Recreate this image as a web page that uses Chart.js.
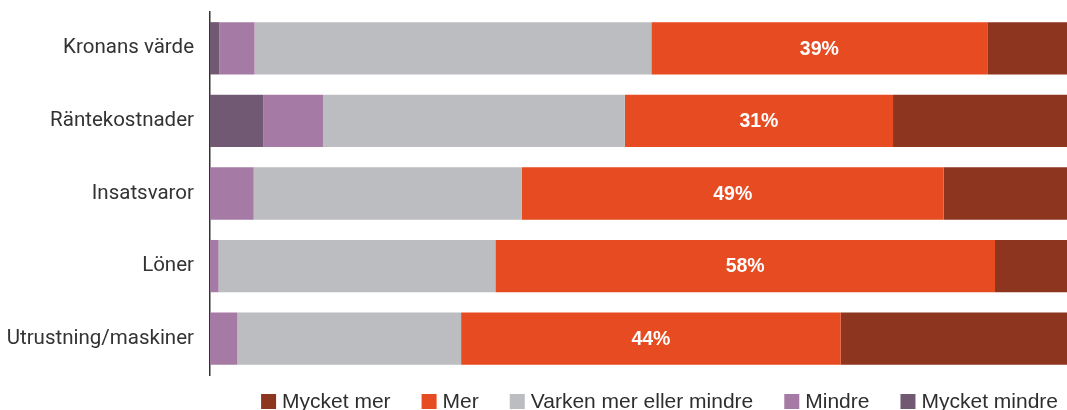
<!DOCTYPE html>
<html>
<head>
<meta charset="utf-8">
<script src="https://cdn.jsdelivr.net/npm/chart.js@4.4.0/dist/chart.umd.min.js"></script>
<style>
    html, body { margin: 0; padding: 0; background: #fff; }
    #wrap { width: 1067px; height: 410px; }
</style>
</head>
<body>
<div id="wrap"><canvas id="chart"></canvas></div>
<script>
// kategorier och andelar (%)
const categories = ['Kronans värde', 'Räntekostnader', 'Insatsvaror', 'Löner', 'Utrustning/maskiner'];
const mycketMindre = [1.1, 6.2, 0, 0, 0];
const mindre = [4.1, 7.0, 5.1, 1.0, 3.2];
const varken = [46.3, 35.2, 31.3, 32.3, 26.1];
const mer = [39.2, 31.3, 49.2, 58.3, 44.3];
const mycketMer = [9.3, 20.3, 14.4, 8.4, 26.4];

const colors = {
    mycketMindre: '#715973',
    mindre: '#a57ba5',
    varken: '#bcbdc1',
    mer: '#e64b21',
    mycketMer: '#8e3520'
};

// skriver procentsatsen i "Mer"-segmentet
const merLabels = {
    id: 'merLabels',
    afterDatasetsDraw(chart) {
        var ctx = chart.ctx;
        var meta = chart.getDatasetMeta(3);
        ctx.save();
        ctx.fillStyle = '#ffffff';
        ctx.font = 'bold 19.5px "Liberation Sans", Arial, sans-serif';
        ctx.textAlign = 'center';
        ctx.textBaseline = 'middle';
        meta.data.forEach((bar, i) => {
            var x = (bar.x + bar.base) / 2;
            ctx.fillText(Math.round(mer[i]) + '%', x, bar.y + 1);
        });
        ctx.restore();
    }
};

// egen förklaring under diagrammet, omvänd ordning, högerställd
const bottomLegend = {
    id: 'bottomLegend',
    afterDraw(chart) {
        var ctx = chart.ctx;
        var sets = chart.data.datasets.slice().reverse();
        var box = 15, gapText = 6, gapItem = 31;
        ctx.save();
        ctx.font = '21px "Liberation Sans", Arial, sans-serif';
        ctx.textBaseline = 'middle';
        var widths = sets.map(ds => box + gapText + ctx.measureText(ds.label).width);
        var total = widths.reduce((a, b) => a + b, 0) + gapItem * (sets.length - 1);
        var x = chart.chartArea.right - 9 - total;
        var top = chart.chartArea.bottom + 19;
        sets.forEach((ds, i) => {
            ctx.fillStyle = ds.backgroundColor;
            ctx.fillRect(x, top, box, box);
            ctx.fillStyle = '#2e2e2e';
            ctx.fillText(ds.label, x + box + gapText, top + box / 2 + 1);
            x += widths[i] + gapItem;
        });
        ctx.restore();
    }
};

var ctx = document.getElementById('chart').getContext('2d');
new Chart(ctx, {
    type: 'bar',
    data: {
        labels: categories,
        datasets: [
            { label: 'Mycket mindre', data: mycketMindre, backgroundColor: colors.mycketMindre },
            { label: 'Mindre', data: mindre, backgroundColor: colors.mindre },
            { label: 'Varken mer eller mindre', data: varken, backgroundColor: colors.varken },
            { label: 'Mer', data: mer, backgroundColor: colors.mer },
            { label: 'Mycket mer', data: mycketMer, backgroundColor: colors.mycketMer }
        ]
    },
    options: {
        indexAxis: 'y',
        responsive: true,
        maintainAspectRatio: false,
        animation: false,
        datasets: {
            bar: {
                categoryPercentage: 1,
                barPercentage: 0.72,
                borderWidth: 0
            }
        },
        layout: {
            padding: { top: 12, right: 0, left: 0, bottom: 35 }
        },
        scales: {
            x: {
                stacked: true,
                display: false,
                min: 0,
                max: 100
            },
            y: {
                stacked: true,
                afterFit: function(scale) {
                    scale.width = 210;
                    scale.paddingTop = 0;
                    scale.paddingBottom = 0;
                },
                grid: { display: false, drawTicks: false },
                border: { display: true, color: '#333333', width: 1.5 },
                ticks: {
                    padding: 16,
                    color: '#333333',
                    font: { family: 'Roboto, "Noto Sans", sans-serif', size: 20.5 }
                }
            }
        },
        plugins: {
            tooltip: { enabled: false },
            legend: { display: false }
        }
    },
    plugins: [merLabels, bottomLegend]
});
</script>
</body>
</html>
